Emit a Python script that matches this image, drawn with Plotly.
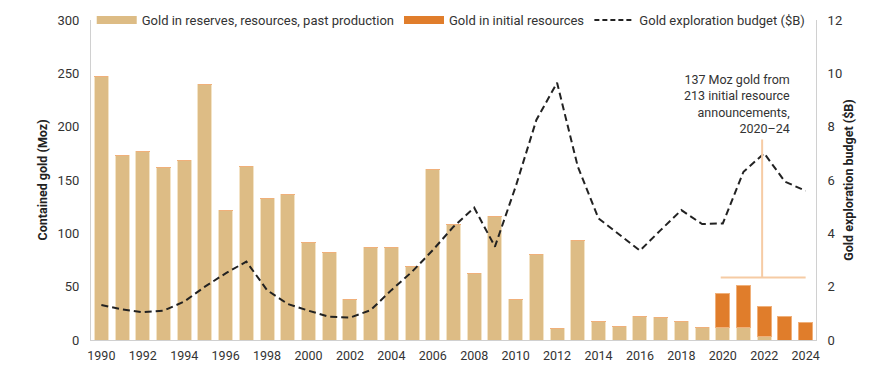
import plotly.graph_objects as go

years = list(range(1990, 2025))
reserves = [247, 173, 177, 162, 168, 240, 121, 163, 133, 136, 91, 82, 38, 87, 87, 69,
            160, 108, 62, 116, 38, 80, 11, 93, 17, 13, 22, 21, 17, 12, 12, 12, 3, 0, 0]
initial = [0]*30 + [32, 39, 28, 22, 16]
budget = [1.31, 1.15, 1.04, 1.1, 1.44, 2.0, 2.5, 2.94, 1.87, 1.35, 1.1, 0.87, 0.84, 1.12,
          1.87, 2.56, 3.37, 4.25, 4.96, 3.5, 5.75, 8.25, 9.65, 6.5, 4.56, 3.94, 3.35, 4.12,
          4.87, 4.35, 4.37, 6.31, 7.0, 5.94, 5.59]
tick_years = list(range(1990, 2025, 2))
names = ["Gold in reserves, resources, past production", "Gold in initial resources",
         "Gold exploration budget ($B)"]
annot_text = "137 Moz gold from<br>213 initial resource<br>announcements,<br>2020–24"

TAN = "#DDBC85"
ORANGE = "#E07D2B"
PEACH = "#F6CBA4"
FONT = "Roboto, sans-serif"

fig = go.Figure()
fig.add_trace(go.Bar(x=years, y=reserves, name=names[0], showlegend=False, legendgroup="a",
                     marker=dict(color=TAN, line=dict(color="#F3E3C6", width=1)), width=0.68))
fig.add_trace(go.Bar(x=years, y=initial, name=names[1], showlegend=False, legendgroup="b",
                     marker=dict(color=ORANGE, line=dict(color="#F0B07A", width=1)), width=0.68))
fig.add_trace(go.Scatter(x=years, y=budget, name=names[2], yaxis="y2", showlegend=False,
                         legendgroup="c",
                         mode="lines", line=dict(color="#222222", width=2, dash="7px,4px")))
# legend swatches (wide rectangles as in the reference)
fig.add_trace(go.Scatter(x=[None], y=[None], name=names[0], mode="lines", legendgroup="a",
                         line=dict(color=TAN, width=8)))
fig.add_trace(go.Scatter(x=[None], y=[None], name=names[1], mode="lines", legendgroup="b",
                         line=dict(color=ORANGE, width=8)))
fig.add_trace(go.Scatter(x=[None], y=[None], name=names[2], mode="lines", legendgroup="c",
                         line=dict(color="#222222", width=2, dash="5px,3px")))

# annotation bracket
fig.add_shape(type="line", xref="x", yref="y", x0=2019.9, x1=2024.0, y0=58.5, y1=58.5,
              line=dict(color=PEACH, width=2))
fig.add_shape(type="line", xref="x", yref="y", x0=2021.9, x1=2021.9, y0=58.5, y1=188,
              line=dict(color=PEACH, width=2))
fig.add_annotation(x=2023.36, y=253, xref="x", yref="y", text=annot_text, showarrow=False,
                   xanchor="right", yanchor="top", align="right",
                   font=dict(size=12.5, color="#333333", family=FONT))

fig.update_layout(
    width=886, height=377,
    margin=dict(l=83, r=78, t=12, b=45, autoexpand=False),
    barmode="stack", bargap=0.3,
    plot_bgcolor="white", paper_bgcolor="white",
    font=dict(family=FONT, size=13, color="#333333"),
    showlegend=True,
    legend=dict(orientation="h", xref="container", yref="container", x=0.0945, y=0.968,
                xanchor="left", yanchor="middle",
                font=dict(size=13, color="#333333"), bgcolor="rgba(255,255,255,0)",
                traceorder="normal", itemwidth=40, tracegroupgap=0),
    xaxis=dict(range=[1989.5, 2024.5], tickmode="array", tickvals=tick_years,
               showgrid=False, showline=True, linecolor="#d0d0d0", linewidth=1,
               ticks="", tickfont=dict(size=12.5), zeroline=False, automargin=False,
               ticklabelstandoff=4),
    yaxis=dict(range=[0, 300], dtick=50, showgrid=False, showline=True, linecolor="#d0d0d0",
               zeroline=False, ticks="", tickfont=dict(size=13), automargin=False,
               ticklabelstandoff=8,
               title=dict(text="<b>Contained gold (Moz)</b>", font=dict(size=12.5, color="#222"),
                          standoff=7)),
    yaxis2=dict(range=[0, 12], dtick=2, overlaying="y", side="right", showgrid=False,
                showline=True, linecolor="#d0d0d0", zeroline=False, ticks="",
                tickfont=dict(size=13), automargin=False, ticklabelstandoff=8,
                title=dict(text="<b>Gold exploration budget ($B)</b>",
                           font=dict(size=12.5, color="#222"), standoff=3)),
)

fig.write_html("out.html")
